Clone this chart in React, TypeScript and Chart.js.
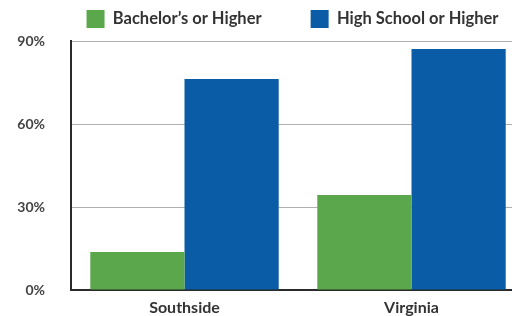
import React, { useEffect, useRef } from "react";
import { Chart, registerables } from "chart.js";

Chart.register(...registerables);

const categories = ["Southside", "Virginia"];
const seriesNames = ["Bachelor’s or Higher", "High School or Higher"];
const bachelorValues = [13.7, 34.3];
const highSchoolValues = [76.3, 87.1];
const yTicks = [0, 30, 60, 90];

const legendShift = {
  id: "legendShift",
  afterLayout(chart: any) {
    if (chart.legend) {
      chart.legend.left = 28;
      chart.legend.right = 557;
    }
  },
};

export default function App() {
  const ref = useRef<HTMLCanvasElement | null>(null);
  useEffect(() => {
    document.body.style.margin = "0";
    document.body.style.overflow = "hidden";
    const ctx = ref.current!;
    const chart = new Chart(ctx, {
      type: "bar",
      data: {
        labels: categories,
        datasets: [
          { label: seriesNames[0], data: bachelorValues, backgroundColor: "#5aa84b", borderWidth: 0 },
          { label: seriesNames[1], data: highSchoolValues, backgroundColor: "#0b5ca6", borderWidth: 0 },
        ],
      },
      plugins: [legendShift],
      options: {
        animation: false,
        responsive: false,
        maintainAspectRatio: false,
        layout: { padding: { left: 0, right: 0, top: -39, bottom: 0 } },
        datasets: { bar: { categoryPercentage: 0.83, barPercentage: 1.0 } },
        plugins: {
          tooltip: { enabled: false },
          title: {
            display: true,
            text: "",
            fullSize: false,
            weight: 0,
            padding: 0,
            font: { size: 3, lineHeight: 1 },
          },
          legend: {
            position: "top",
            align: "center",
            fullSize: true,
            labels: {
              boxWidth: 18,
              boxHeight: 18,
              padding: 49,
              color: "#333",
              font: { family: "Lato", weight: "bold", size: 16.5 },
            },
          },
        },
        scales: {
          x: {
            afterFit: (s: any) => { s.height = 26; },
            grid: { display: false, drawTicks: false },
            border: { display: true, color: "#2a2a2a", width: 2 },
            ticks: { color: "#333", padding: 8, font: { family: "Lato", weight: "bold", size: 16 } },
          },
          y: {
            min: 0,
            max: 90,
            afterFit: (s: any) => {
              s.width = 71;
              s.paddingTop = 0;
              s.paddingBottom = 0;
            },
            afterBuildTicks: (s: any) => { s.ticks = yTicks.map((v) => ({ value: v })); },
            grid: { color: "#b0b0b0", drawTicks: false, lineWidth: 1 },
            border: { display: true, color: "#2a2a2a", width: 2 },
            ticks: {
              color: "#444",
              padding: 26,
              font: { family: "Lato", weight: "bold", size: 14 },
              callback: (v: any) => v + "%",
            },
          },
        },
      },
    });
    return () => chart.destroy();
  }, []);
  return (
    <div style={{ width: 512, height: 316, overflow: "hidden", background: "#fff" }}>
      <canvas ref={ref} width={525} height={316} style={{ display: "block", width: 525, height: 316 }} />
    </div>
  );
}
